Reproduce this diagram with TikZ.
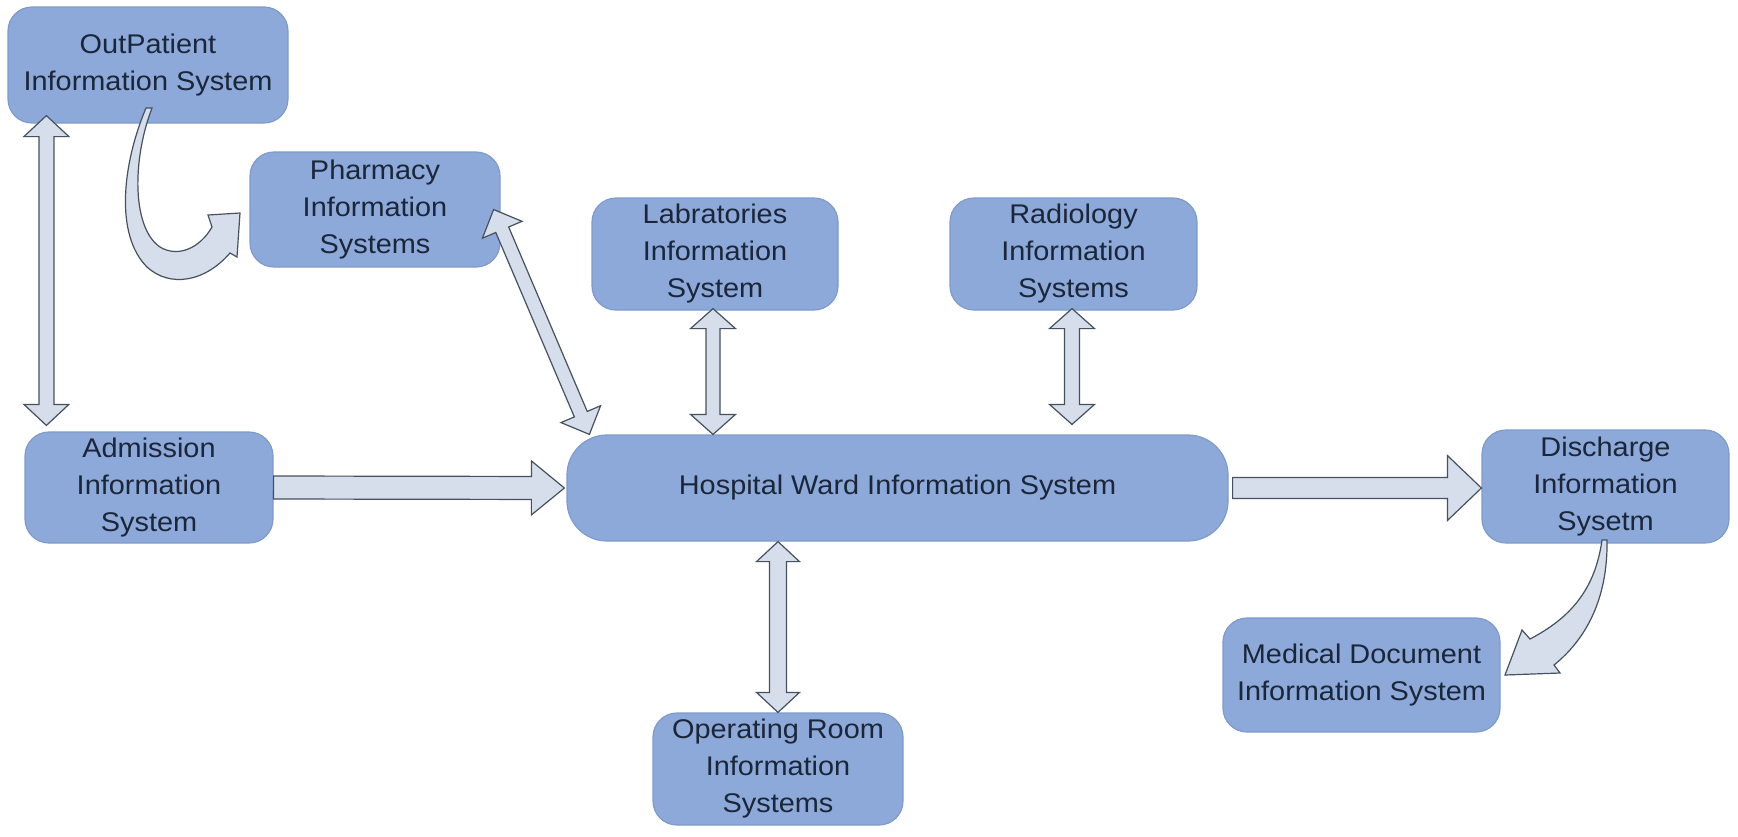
\documentclass[tikz,border=0pt]{standalone}
\usepackage{fontspec}
\newfontfamily\boxfont[FakeStretch=1.07]{Liberation Sans}
\usetikzlibrary{calc}
\definecolor{boxfill}{HTML}{8DA9D9}
\definecolor{boxline}{HTML}{7F9BCB}
\definecolor{txt}{HTML}{1B2638}
\definecolor{arrfill}{HTML}{D5DEEA}
\definecolor{arrline}{HTML}{46515E}
\tikzset{
  sysbox/.style={rectangle, rounded corners=12pt, fill=boxfill, draw=boxline, line width=0.6pt,
    align=center, text=txt, font=\boxfont\fontsize{13.5}{18.5}\selectfont, inner sep=0pt},
  blockarrow/.style={fill=arrfill, draw=arrline, line width=0.6pt, line join=miter},
}
% double block arrow: tip A, tip B, shaft half width, head half width, head length
\newcommand{\dblarr}[5]{%
  \path (#1) coordinate (dA) (#2) coordinate (dB);
  \coordinate (hA) at ($(dA)!#5!(dB)$);
  \coordinate (hB) at ($(dB)!#5!(dA)$);
  \filldraw[blockarrow] (dA) -- ($(hA)!#4!90:(dB)$) -- ($(hA)!#3!90:(dB)$)
    -- ($(hB)!#3!-90:(dA)$) -- ($(hB)!#4!-90:(dA)$) -- (dB)
    -- ($(hB)!#4!90:(dA)$) -- ($(hB)!#3!90:(dA)$)
    -- ($(hA)!#3!-90:(dB)$) -- ($(hA)!#4!-90:(dB)$) -- cycle;}
% single block arrow: tail A, tip B, shaft half width, head half width, head length
\newcommand{\sglarr}[5]{%
  \path (#1) coordinate (sA) (#2) coordinate (sB);
  \coordinate (hS) at ($(sB)!#5!(sA)$);
  \filldraw[blockarrow] ($(sA)!#3!90:(sB)$) -- ($(hS)!#3!-90:(sA)$) -- ($(hS)!#4!-90:(sA)$)
    -- (sB) -- ($(hS)!#4!90:(sA)$) -- ($(hS)!#3!90:(sA)$) -- ($(sA)!#3!-90:(sB)$) -- cycle;}
\begin{document}
\begin{tikzpicture}[x=0.5pt, y=-0.5pt]
\useasboundingbox (0,0) rectangle (1738,836);

\node[sysbox, minimum width=140pt, minimum height=58pt] (out) at (148,65) {OutPatient\\Information System};
\node[sysbox, minimum width=125pt, minimum height=57.5pt] (pharm) at (375,209.5) {Pharmacy\\Information\\Systems};
\node[sysbox, minimum width=123pt, minimum height=56pt] (lab) at (715,254) {Labratories\\Information\\System};
\node[sysbox, minimum width=123.5pt, minimum height=56pt] (rad) at (1073.5,254) {Radiology\\Information\\Systems};
\node[sysbox, minimum width=124pt, minimum height=55.5pt] (adm) at (149,487.5) {Admission\\Information\\System};
\node[sysbox, rounded corners=20pt, minimum width=330.5pt, minimum height=53pt] (hosp) at (897.5,488) {Hospital Ward Information System};
\node[sysbox, minimum width=123.5pt, minimum height=56.5pt] (dis) at (1605.5,486.5) {Discharge\\Information\\Sysetm};
\node[sysbox, minimum width=138.5pt, minimum height=57pt] (med) at (1361.5,675) {Medical Document\\Information System};
\node[sysbox, minimum width=125pt, minimum height=56pt] (or) at (778,769) {Operating Room\\Information\\Systems};

% straight block arrows
\dblarr{$(out.south west)+(39,-8)$}{$(adm.north west)+(22,-6)$}{3.75pt}{11.25pt}{10.5pt}
\dblarr{$(pharm.east)+(-7,0)$}{$(hosp.north west)+(23,0)$}{3.5pt}{10.75pt}{11pt}
\dblarr{$(lab.south)+(-2,-2)$}{$(lab.south |- hosp.north)+(-2,0)$}{3.5pt}{11.25pt}{10pt}
\dblarr{$(rad.south)+(-1.5,-2)$}{$(rad.south |- hosp.north)+(-1.5,-10)$}{3.75pt}{11.25pt}{10pt}
\dblarr{or.north |- hosp.south}{or.north}{4.25pt}{10.75pt}{10pt}
\sglarr{adm.east}{$(hosp.west)+(-2,0)$}{5.75pt}{13.5pt}{16.5pt}
\sglarr{$(hosp.east)+(4,0)$}{dis.west |- hosp.east}{5.25pt}{16.25pt}{17pt}

% curved arrow OutPatient -> Pharmacy
\filldraw[blockarrow] (146,108) .. controls (122,165) and (115,235) .. (147,267)
  .. controls (170,288) and (205,282) .. (230,253) -- (237,257) -- (240,213) -- (208,215) -- (212,227)
  .. controls (200,248) and (178,258) .. (160,247)
  .. controls (132,228) and (132,160) .. (152,108) -- cycle;

% curved arrow Discharge -> Medical Document
\filldraw[blockarrow] (1607,540) .. controls (1608,600) and (1585,640) .. (1554,665)
  -- (1560,673) -- (1505,675) -- (1522,630) -- (1530,639)
  .. controls (1570,618) and (1595,590) .. (1602,540) -- cycle;
\end{tikzpicture}
\end{document}
